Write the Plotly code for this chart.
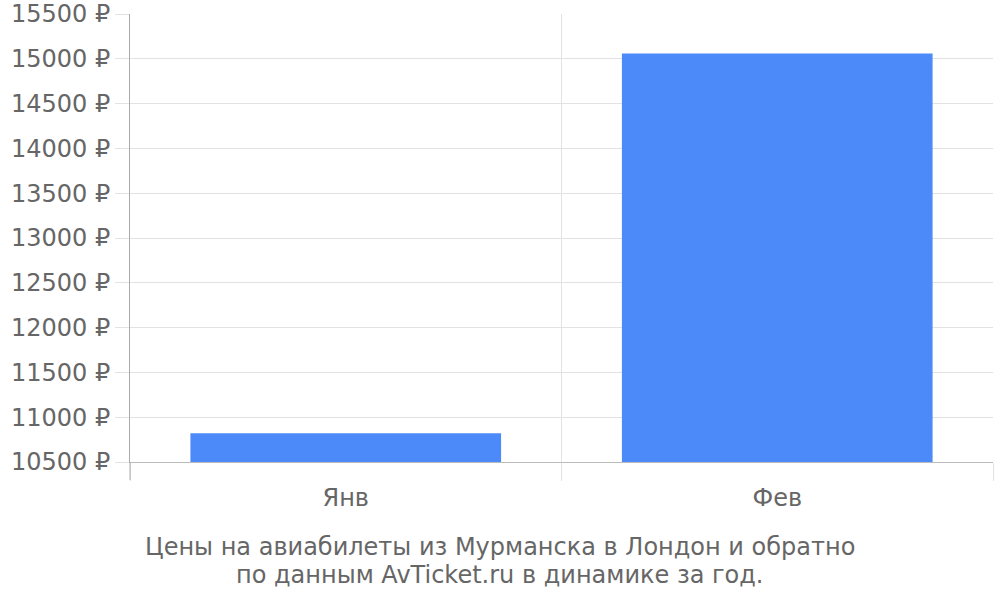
# Bar chart: flight prices Murmansk - London by month
import plotly.graph_objects as go

months = ['Янв', 'Фев']
prices = [10820, 15060]

y_ticks = list(range(10500, 16000, 500))
y_tick_labels = [f'{v} ₽' for v in y_ticks]

title_lines = ['Цены на авиабилеты из Мурманска в Лондон и обратно',
               'по данным AvTicket.ru в динамике за год.']

grid_color = '#e2e2e2'
text_color = '#666666'

fig = go.Figure()

fig.add_trace(go.Bar(
    x=months,
    y=prices,
    width=0.72,
    marker=dict(color='#4d8af9', line=dict(width=0)),
    hoverinfo='x+y',
))

fig.update_layout(
    width=1000, height=600,
    margin=dict(l=130, r=7, t=14, b=138, autoexpand=False),
    plot_bgcolor='white',
    paper_bgcolor='white',
    showlegend=False,
    font=dict(family='DejaVu Sans', size=24, color=text_color),
)

fig.update_xaxes(
    type='category',
    tickson='boundaries',
    ticks='outside',
    ticklen=18,
    tickcolor=grid_color,
    showgrid=True,
    gridcolor=grid_color,
    showline=True,
    linecolor='#bbbbbb',
    ticklabelstandoff=14,
    tickfont=dict(size=24, color=text_color),
)

fig.update_yaxes(
    range=[10500, 15500],
    tickvals=y_ticks,
    ticktext=y_tick_labels,
    ticks='outside',
    ticklen=14,
    tickcolor=grid_color,
    showgrid=True,
    gridcolor=grid_color,
    showline=True,
    linecolor='#aaaaaa',
    zeroline=False,
    ticklabeloverflow='allow',
    tickfont=dict(size=24, color=text_color),
)

# darker axis line extension below the plot
fig.add_shape(type='line', xref='paper', yref='paper',
              x0=0, x1=0, y0=0, y1=-0.04,
              line=dict(color='#aaaaaa', width=1))

for line, ypos in zip(title_lines, [-0.19, -0.252]):
    fig.add_annotation(
        text=line,
        xref='paper', yref='paper',
        x=0.4287, y=ypos,
        xanchor='center', yanchor='middle',
        showarrow=False,
        font=dict(size=24, color=text_color),
    )

# drop the default body margin so the figure sits at the window corner
fig.write_html('out.html', config={'displayModeBar': False},
               post_script="document.body.style.margin='0';")
